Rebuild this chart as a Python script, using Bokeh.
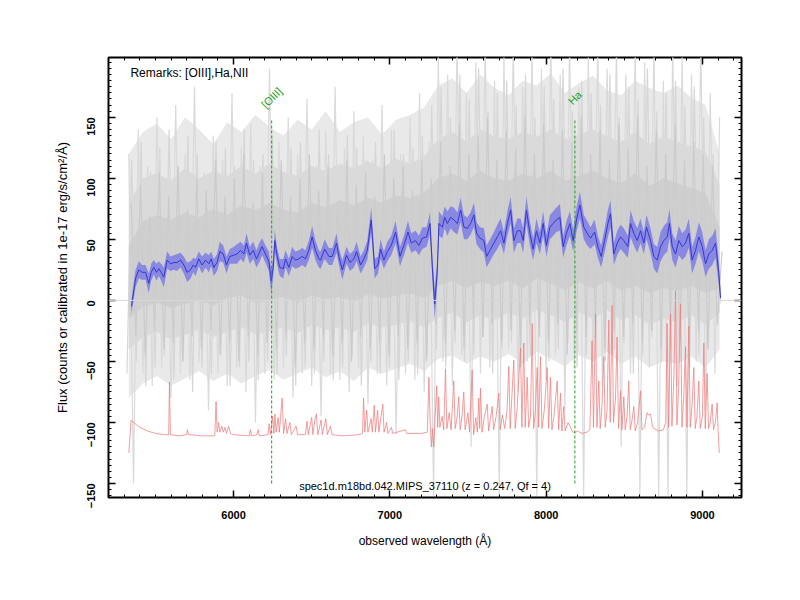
import math
import numpy as np
from bokeh.plotting import figure
from bokeh.models import (Range1d, LinearAxis, SingleIntervalTicker, Label, Span,
                          ColumnDataSource, CustomJSTickFormatter)
from bokeh.transform import dodge
from bokeh.core.properties import value
from bokeh.embed import file_html
from bokeh.resources import INLINE

# ---------------- data ----------------
# smoothed spectrum (blue) : wavelength, flux, 1-sigma
blue_wl = [5347, 5373, 5394, 5415, 5437, 5458, 5473, 5490, 5507, 5522,
           5537, 5554, 5575, 5597, 5618, 5639, 5661, 5682, 5703, 5725,
           5742, 5757, 5778, 5799, 5821, 5842, 5857, 5874, 5895, 5912,
           5934, 5955, 5976, 6002, 6023, 6045, 6066, 6083, 6104, 6126,
           6147, 6168, 6183, 6204, 6226, 6241, 6254, 6264, 6279, 6296,
           6318, 6333, 6354, 6375, 6396, 6418, 6439, 6460, 6482, 6503,
           6524, 6546,
           6557, 6583, 6610, 6632, 6659, 6674, 6696, 6723, 6745, 6770,
           6787, 6813, 6834, 6856, 6881, 6903, 6924, 6941, 6962, 6984,
           7009, 7037, 7065, 7090, 7116, 7137, 7165, 7186, 7208, 7235,
           7257, 7272, 7287, 7304, 7314, 7336, 7351, 7368, 7389, 7410,
           7432, 7453, 7474, 7496, 7517, 7538, 7555, 7577, 7602, 7619,
           7645, 7666, 7688, 7709, 7730, 7752, 7773, 7794, 7816,
           7836, 7853, 7874, 7896, 7917, 7938, 7960, 7981, 8002, 8024,
           8045, 8066, 8088, 8109, 8130, 8152, 8173, 8194, 8216, 8241,
           8263, 8284, 8310, 8331, 8352, 8374, 8395, 8412, 8433, 8455,
           8476, 8497, 8523, 8540, 8561, 8583, 8604, 8625, 8642, 8668,
           8689, 8711, 8732, 8753, 8775, 8789, 8807, 8828, 8849, 8871,
           8892, 8913, 8934, 8956, 8977, 8999, 9020, 9041, 9063, 9084,
           9105, 9116]
blue_flux = [-5, 18, 25, 23, 23, 14, 23, 27, 23, 26,
             23, 19, 33, 30, 31, 31, 33, 29, 23, 25,
             29, 27, 34, 29, 33, 30, 34, 27, 31, 40,
             38, 29, 36, 37, 38, 41, 38, 47, 37, 41,
             34, 40, 44, 38, 32, 16, 27, 49, 36, 27,
             26, 34, 27, 36, 33, 34, 36, 34, 41, 52,
             41, 34,
             33, 42, 36, 36, 47, 36, 25, 37, 31, 34,
             40, 29, 34, 41, 66, 26, 29, 42, 33, 40,
             45, 56, 36, 45, 56, 47, 49, 45, 51, 52,
             63, 27, -3, 25, 63, 60, 68, 63, 68, 66,
             63, 74, 60, 59, 63, 70, 55, 51, 49, 36,
             42, 47, 52, 57, 47, 63, 74, 49, 57,
             57, 49, 74, 55, 42, 57, 47, 63, 45, 60,
             63, 66, 68, 44, 55, 63, 49, 66, 78, 60,
             55, 51, 56, 44, 36, 49, 63, 71, 38, 47,
             52, 49, 44, 63, 55, 49, 57, 47, 60, 49,
             36, 33, 44, 49, 52, 63, 44, 38, 49, 44,
             47, 55, 33, 41, 52, 44, 30, 38, 41, 47,
             22, 2]
blue_err = [6, 7, 7, 6, 6, 8, 7, 6, 7, 6,
            7, 8, 7, 6, 6, 7, 6, 7, 8, 7,
            6, 7, 6, 7, 6, 7, 6, 7, 7, 8,
            7, 7, 6, 7, 8, 7, 7, 8, 7, 7,
            7, 8, 7, 7, 8, 10, 8, 9, 7, 7,
            8, 7, 7, 8, 7, 7, 7, 7, 8, 9,
            8, 7,
            7, 8, 7, 7, 8, 7, 8, 7, 7, 7,
            8, 7, 7, 8, 10, 8, 7, 8, 7, 8,
            8, 9, 8, 8, 9, 8, 8, 8, 9, 8,
            9, 10, 12, 10, 10, 9, 9, 10, 9, 10,
            9, 10, 10, 9, 9, 10, 9, 9, 10, 9,
            9, 9, 10, 10, 9, 10, 11, 10, 10,
            10, 10, 11, 10, 9, 10, 9, 10, 9, 10,
            10, 10, 11, 9, 10, 10, 9, 10, 11, 10,
            10, 9, 10, 9, 9, 10, 11, 11, 9, 10,
            10, 10, 9, 11, 10, 10, 10, 9, 10, 10,
            10, 11, 12, 12, 12, 12, 11, 11, 12, 11,
            11, 12, 11, 11, 12, 12, 11, 12, 12, 12,
            10, 6]

# raw exposures (gray), sampled every 30 A
gray_wl = [5330, 5360, 5390, 5420, 5450, 5480, 5510, 5540, 5570, 5600,
           5630, 5660, 5690, 5720, 5750, 5780, 5810, 5840, 5870, 5900,
           5930, 5960, 5990, 6020, 6050, 6080, 6110, 6140, 6170, 6200,
           6230, 6260, 6290, 6320, 6350, 6380, 6410, 6440, 6470, 6500,
           6530, 6560, 6590, 6620, 6650, 6680, 6710, 6740, 6770, 6800,
           6830, 6860, 6890, 6920, 6950, 6980, 7010, 7040, 7070, 7100,
           7130, 7160, 7190, 7220, 7250, 7280, 7310, 7340, 7370, 7400,
           7430, 7460, 7490, 7520, 7550, 7580, 7610, 7640, 7670, 7700,
           7730, 7760, 7790, 7820, 7850, 7880, 7910, 7940, 7970, 8000,
           8030, 8060, 8090, 8120, 8150, 8180, 8210, 8240, 8270, 8300,
           8330, 8360, 8390, 8420, 8450, 8480, 8510, 8540, 8570, 8600,
           8630, 8660, 8690, 8720, 8750, 8780, 8810, 8840, 8870, 8900,
           8930, 8960, 8990, 9020, 9050, 9080, 9110]
gray_a = [120, -150, 140, -60, 110, -70, 150, -55, 100, -80,
          160, -60, 120, -65, 175, -50, 105, -90, 135, -60,
          115, -70, 170, -55, 125, -75, 145, -100, 110, -60,
          190, -65, 130, -55, 150, -80, 120, -60, 165, -70,
          110, -95, 140, -60, 175, -65, 125, -75, 155, -55,
          135, -85, 115, -60, 160, -70, 140, -110, 120, -60,
          150, -65, 170, -75, 130,
          -160, 200, -50, 185, -70, 210, -45, 170, -120, 195,
          -60, 210, -55, 180, -160, 200, -40, 210, -75, 175,
          -50, 210, -160, 190, -65, 210, -45, 185, -90, 210,
          -55, 175, -160, 200, -50, 210, -70, 190, -45, 210,
          -120, 185, -60, 210, -160, 195, -55, 210, -160, 180,
          -160, 210, -70, 200, -160, 185, -50, 210, -90, 170,
          -60, 150]
gray_b = [80, -30, 95, -45, 70, -25, 105, -40, 85, -35,
          110, -50, 75, -30, 100, -40, 90, -25, 115, -45,
          85, -35, 100, -50, 120, -30, 80, -45, 105, -35,
          95, -40, 115, -30, 85, -55, 100, -35, 120, -40,
          90, -30, 110, -45, 80, -35, 115, -50, 95, -30,
          105, -40, 85, -35, 120, -45, 100, -30, 110, -40,
          90, -35, 115, -50, 100,
          -20, 130, -35, 110, -25, 145, -40, 120, -15, 135,
          -30, 150, -20, 115, -35, 140, -25, 125, -40, 150,
          -20, 120, -30, 145, -35, 115, -20, 140, -45, 130,
          -25, 150, -30, 120, -20, 140, -40, 115, -25, 145,
          -30, 125, -20, 150, -35, 110, -25, 140, -40, 120,
          -20, 145, -30, 115, -35, 130, -25, 120, -40, 110,
          -20, 40]
gray_c = [-60, 115, -50, 130, -70, 105, -55, 125, -45, 140,
          -65, 110, -50, 135, -75, 120, -55, 100, -60, 130,
          -45, 125, -70, 110, -55, 140, -50, 115, -65, 120,
          -50, 135, -60, 105, -45, 125, -70, 130, -55, 110,
          -60, 140, -50, 120, -65, 105, -55, 135, -45, 125,
          -70, 115, -50, 130, -60, 110, -55, 140, -65, 120,
          -50, 125, -60, 135, -45,
          160, -40, 175, -55, 150, -35, 185, -50, 165, -45,
          190, -30, 155, -60, 170, -40, 180, -35, 160, -55,
          185, -45, 150, -30, 175, -50, 165, -40, 190, -35,
          155, -55, 180, -45, 170, -30, 160, -50, 185, -40,
          150, -35, 175, -60, 165, -45, 190, -30, 155, -50,
          170, -40, 180, -35, 160, -55, 175, -45, 150, -40,
          120, -20]

# envelopes of the stacked raw exposures (outer, middle, inner)
env_wl = [5330, 5420, 5510, 5600, 5690, 5780, 5870, 5960, 6050, 6140,
          6230, 6320, 6410, 6500, 6590, 6680, 6770, 6860, 6950, 7040,
          7130, 7220, 7310, 7400, 7490, 7580, 7670, 7760, 7850, 7940,
          8030, 8120, 8210, 8300, 8390, 8480, 8570, 8660, 8750, 8840,
          8930, 9020, 9110]
light_hi = [120, 138, 145, 132, 150, 140, 128, 146, 138, 152,
            142, 135, 148, 140, 155, 138, 146, 150, 136, 148,
            152, 158, 176, 182, 170, 185, 174, 168, 180, 176,
            186, 170, 178, 184, 172, 168, 180, 174, 170, 176,
            166, 160, 120]
light_lo = [-80, -68, -62, -70, -64, -58, -66, -60, -68, -62,
            -57, -65, -60, -55, -63, -58, -66, -55, -60, -56,
            -52, -58, -48, -45, -52, -46, -50, -44, -52, -42,
            -48, -54, -45, -50, -42, -52, -46, -55, -50, -52,
            -46, -55, -40]
mid_hi = [80, 100, 104, 98, 108, 100, 106, 102, 110, 104,
          112, 105, 102, 110, 106, 112, 108, 114, 108, 116,
          112, 118, 132, 138, 130, 140, 134, 132, 138, 134,
          140, 132, 136, 140, 134, 130, 138, 128, 134, 130,
          126, 122, 95]
mid_lo = [-40, -30, -26, -32, -28, -24, -30, -26, -22, -28,
          -25, -22, -27, -20, -24, -22, -26, -19, -22, -20,
          -17, -22, -14, -10, -18, -12, -16, -10, -15, -8,
          -12, -18, -10, -15, -8, -16, -12, -20, -15, -18,
          -12, -20, -10]
dark_hi = [45, 65, 70, 66, 72, 68, 75, 70, 78, 74,
           80, 74, 72, 80, 76, 82, 78, 84, 80, 86,
           84, 88, 100, 104, 98, 106, 100, 98, 104, 100,
           106, 98, 102, 106, 100, 96, 104, 94, 100, 96,
           92, 88, 60]
dark_lo = [-15, -5, -2, -6, -3, 0, -4, 2, 4, -2,
           0, 3, -2, 4, 1, 3, -1, 5, 2, 4,
           6, 2, 12, 16, 10, 15, 12, 16, 10, 18,
           14, 8, 15, 10, 16, 8, 12, 6, 10, 8,
           12, 6, 10]

# sky / noise spectrum (red)
red_wl = [5330, 5345, 5360, 5400, 5450, 5500, 5560, 5585, 5590, 5596,
          5650, 5700, 5705, 5712, 5800, 5880, 5888, 5895, 5905, 5912,
          5925, 5935, 5945, 5955, 5968, 5980, 6000, 6100, 6108, 6115,
          6150, 6158, 6165, 6220, 6228, 6236, 6250, 6258, 6265, 6272,
          6285, 6293, 6311, 6320, 6333, 6342, 6360, 6370, 6400, 6410,
          6460, 6470, 6478, 6500, 6508, 6520, 6530, 6540, 6560, 6568,
          6590, 6600, 6620, 6630, 6700, 6800, 6825, 6832, 6840, 6852,
          6860, 6880, 6888, 6900, 6908, 6922, 6930, 6955, 6963, 6980,
          6988, 7010, 7018, 7100, 7108, 7200, 7240, 7250, 7258, 7266,
          7272, 7281, 7288, 7300, 7306, 7313, 7320, 7335, 7345, 7356,
          7365, 7380, 7392, 7409, 7418, 7430, 7441, 7450, 7462, 7473,
          7482, 7500, 7510, 7527, 7536, 7550, 7560, 7569, 7575, 7580,
          7590, 7605, 7623, 7632, 7655, 7664, 7680, 7697, 7706, 7720,
          7735, 7750, 7761, 7770, 7793, 7802, 7815, 7836, 7845, 7857,
          7866, 7879, 7888, 7900, 7911, 7920, 7930, 7943, 7952, 7964,
          7973, 7988, 8007, 8016, 8028, 8037, 8050, 8071, 8080, 8092,
          8101, 8113, 8122, 8140, 8156, 8170, 8190, 8200, 8230, 8260,
          8280, 8294, 8303, 8316, 8325, 8337, 8346, 8358, 8369, 8378,
          8390, 8401, 8410, 8422, 8431, 8444, 8454, 8463, 8476, 8485,
          8497, 8506, 8518, 8529, 8538, 8550, 8561, 8570, 8585, 8604,
          8613, 8630, 8640, 8646, 8655, 8668, 8680, 8689, 8720, 8750,
          8765, 8774, 8783, 8796, 8805, 8818, 8828, 8837, 8848, 8860,
          8869, 8880, 8892, 8901, 8913, 8922, 8934, 8945, 8954, 8965,
          8977, 8986, 9000, 9009, 9018, 9030, 9039, 9050, 9062, 9071,
          9083, 9094, 9100, 9108]
red_flux = [-125, -98, -100, -104, -107, -109, -110, -110, -67, -110,
            -111, -110, -106, -110, -111, -111, -83, -108, -100, -108,
            -103, -108, -104, -109, -103, -109, -110, -111, -106, -111,
            -110, -106, -111, -110, -101, -110, -95, -109, -93, -108,
            -96, -108, -80, -109, -97, -109, -100, -110, -103, -110,
            -110, -99, -110, -96, -110, -98, -93, -110, -98, -110,
            -97, -110, -103, -110, -111, -110, -109, -80, -108, -90,
            -108, -97, -108, -86, -108, -90, -108, -85, -108, -100,
            -109, -104, -109, -106, -109, -109, -108, -63, -100, -120,
            -105, -120, -100, -70, -104, -79, -104, -95, -106, -56,
            -105, -92, -106, -66, -105, -96, -79, -106, -94, -75,
            -106, -92, -108, -57, -110, -96, -108, -80, -105, -72,
            -108, -95, -85, -107, -87, -106, -95, -76, -106, -94,
            -105, -90, -54, -105, -49, -105, -88, -39, -104, -35,
            -104, -63, -104, -95, -19, -105, -92, -55, -104, -46,
            -105, -90, -55, -105, -63, -106, -95, -66, -106, -76,
            -107, -87, -107, -100, -104, -108, -108, -107, -109, -108,
            -106, -33, -104, -11, -104, -66, -105, -85, -46, -104,
            -90, -16, -100, -4, -100, -80, -30, -105, -74, -106,
            -79, -106, -95, -66, -106, -98, -87, -107, -100, -74,
            -106, -104, -96, -92, -94, -93, -103, -105, -107, -106,
            -100, -19, -104, -11, -103, -60, 8, -102, -70, -3,
            -104, -80, -38, -104, -21, -104, -85, -55, -105, -95,
            -66, -105, -95, -35, -105, -60, -105, -100, -85, -106,
            -100, -84, -106, -125]

# emission lines marked
line_names = ["[OIII]", "Ha"]
line_wl = [6244, 8184]

remarks = "Remarks: [OIII],Ha,NII"
spec_title = "spec1d.m18bd.042.MIPS_37110 (z = 0.247, Qf = 4)"

# ---------------- figure ----------------
FONT = "Liberation Sans"
p = figure(width=792, height=592, x_range=Range1d(5200, 9250), y_range=Range1d(-161.5, 199),
           output_backend="svg", toolbar_location=None,
           min_border_left=108, min_border_right=51, min_border_top=57, min_border_bottom=95)
p.xgrid.visible = False
p.ygrid.visible = False
p.outline_line_color = "black"
p.outline_line_width = 2
p.background_fill_color = "white"
p.border_fill_color = "white"

p.add_layout(Span(location=0, dimension="width", line_color="#d8d8d8", line_width=1))

# gray raw exposures: nested envelopes + individual strokes
gsrc = ColumnDataSource(dict(wl=gray_wl, a=gray_a, b=gray_b, c=gray_c))
p.varea(x=env_wl, y1=light_lo, y2=light_hi, fill_color="#e9e9e9")
p.line(x="wl", y="a", source=gsrc, line_color="#dadada", line_width=1.2)
p.line(x=dodge("wl", -12, range=p.x_range), y="c", source=gsrc, line_color="#d6d6d6", line_width=1.2)
p.varea(x=env_wl, y1=mid_lo, y2=mid_hi, fill_color="#dadada")
p.line(x=dodge("wl", 15, range=p.x_range), y="b", source=gsrc, line_color="#cbcbcb", line_width=1.2)
p.varea(x=env_wl, y1=dark_lo, y2=dark_hi, fill_color="#cdcdcd", fill_alpha=0.85)

# red sky spectrum
p.line(x=red_wl, y=red_flux, line_color="#f07c7c", line_width=1, line_alpha=0.75)

# blue smoothed spectrum with band
bf = np.array(blue_flux, dtype=float)
be = np.array(blue_err, dtype=float)
p.varea(x=blue_wl, y1=bf - be, y2=bf + be, fill_color="#6464ec", fill_alpha=0.65)
p.line(x=blue_wl, y=blue_flux, line_color="#3636d6", line_width=1)

# emission line markers
p.segment(x0=line_wl, y0=[-150] * len(line_wl), x1=line_wl, y1=[148] * len(line_wl),
          line_color="#22a022", line_width=1, line_dash="3 2")
p.text(x=line_wl, y=[166] * len(line_wl), text=line_names, angle=math.pi / 4,
       text_align="center", text_baseline="middle", text_color="#22a022",
       text_font=value(FONT), text_font_size="11px")

p.add_layout(Label(x=5340, y=186, text=remarks, text_baseline="middle",
                   text_font=FONT, text_font_size="12px", text_color="black"))
p.add_layout(Label(x=7225, y=-152, text=spec_title, text_align="center", text_baseline="middle",
                   text_font=FONT, text_font_size="11px", text_color="black"))

# ---------------- axes ----------------
def style(ax, labels=True):
    ax.axis_line_color = None
    ax.major_tick_in = 7
    ax.major_tick_out = 0
    ax.minor_tick_in = 3
    ax.minor_tick_out = 0
    ax.major_tick_line_color = "black"
    ax.minor_tick_line_color = "black"
    ax.major_tick_line_width = 1.5
    ax.minor_tick_line_width = 1
    ax.major_label_text_font = FONT
    ax.major_label_text_font_style = "bold"
    ax.major_label_text_font_size = "11px"
    ax.major_label_text_color = "black"
    ax.axis_label_text_font = FONT
    ax.axis_label_text_font_style = "normal"
    ax.axis_label_text_font_size = "12px"
    ax.axis_label_text_color = "black"
    if not labels:
        ax.formatter = CustomJSTickFormatter(code="return '';")
        ax.major_label_standoff = 0

p.xaxis.ticker = SingleIntervalTicker(interval=1000, num_minor_ticks=10)
p.yaxis.ticker = SingleIntervalTicker(interval=50, num_minor_ticks=10)
style(p.xaxis[0])
style(p.yaxis[0])
p.xaxis.axis_label = "observed wavelength (Å)"
p.yaxis.axis_label = "Flux (counts or calibrated in 1e-17 erg/s/cm²/Å)"
p.yaxis.axis_label_text_font_size = "13px"
p.xaxis.major_label_standoff = 13
p.xaxis.axis_label_standoff = 12
p.yaxis.major_label_orientation = math.pi / 2
p.yaxis.major_label_standoff = 17
p.yaxis.axis_label_standoff = 11

top_ax = LinearAxis(ticker=SingleIntervalTicker(interval=1000, num_minor_ticks=10))
style(top_ax, labels=False)
p.add_layout(top_ax, "above")
right_ax = LinearAxis(ticker=SingleIntervalTicker(interval=50, num_minor_ticks=10))
style(right_ax, labels=False)
p.add_layout(right_ax, "right")

open("out.html", "w").write(file_html(p, INLINE))
